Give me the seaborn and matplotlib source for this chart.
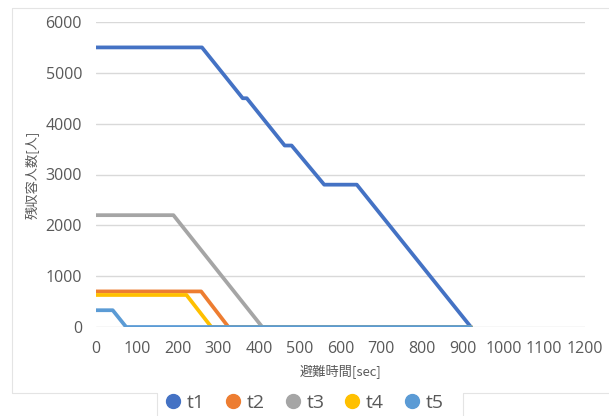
import matplotlib
matplotlib.use("Agg")
import matplotlib.pyplot as plt
from matplotlib.lines import Line2D
import seaborn as sns
import pandas as pd

# Remaining evacuees over time for each group
series_names = ["t1", "t2", "t3", "t4", "t5"]
t1_time = [0, 260, 360, 370, 463, 480, 560, 640, 920]
t1_vals = [5500, 5500, 4500, 4500, 3570, 3570, 2800, 2800, 0]
t2_time = [0, 258, 325, 920]
t2_vals = [700, 700, 0, 0]
t3_time = [0, 190, 408, 920]
t3_vals = [2200, 2200, 0, 0]
t4_time = [0, 222, 283, 920]
t4_vals = [630, 630, 0, 0]
t5_time = [0, 41, 74, 920]
t5_vals = [330, 330, 0, 0]

x_ticks = list(range(0, 1201, 100))
y_ticks = list(range(0, 6001, 1000))
colors = ["#4472C4", "#ED7D31", "#A5A5A5", "#FFC000", "#5B9BD5"]

times = [t1_time, t2_time, t3_time, t4_time, t5_time]
vals = [t1_vals, t2_vals, t3_vals, t4_vals, t5_vals]
frames = []
for name, tt, vv in zip(series_names, times, vals):
    frames.append(pd.DataFrame({"time": tt, "people": vv, "group": name}))
df = pd.concat(frames, ignore_index=True)

sns.set_theme(style="white")
plt.rcParams["font.family"] = ["Open Sans", "Noto Sans CJK JP", "DejaVu Sans"]

fig = plt.figure(figsize=(6.09, 4.16), dpi=100)
ax = fig.add_axes([96 / 609, 1 - 327 / 416, 489 / 609, 305 / 416])

grey_text = "#595959"
grid_col = "#D9D9D9"

for yv in y_ticks:
    ax.axhline(yv, color=grid_col, lw=1.0, zorder=0)

sns.lineplot(data=df, x="time", y="people", hue="group", palette=colors,
             hue_order=series_names, estimator=None, sort=False,
             linewidth=2.7, legend=False, ax=ax)

ax.set_xlim(0, 1200)
ax.set_ylim(0, 6000)
ax.set_xticks(x_ticks)
ax.set_yticks(y_ticks)
ax.tick_params(axis="both", length=0, labelsize=11.5, labelcolor=grey_text)
ax.tick_params(axis="x", pad=10)
ax.tick_params(axis="y", pad=10)
for s in ax.spines.values():
    s.set_visible(False)

ax.set_xlabel("避難時間[sec]", fontsize=9.5, color=grey_text,
              family=["Noto Sans CJK JP", "DejaVu Sans"], labelpad=5)
ax.set_ylabel("残収容人数[人]", fontsize=9.5, color=grey_text,
              family=["Noto Sans CJK JP", "DejaVu Sans"], labelpad=4)

handles = [Line2D([], [], marker="o", linestyle="none", markersize=10,
                  markerfacecolor=c, markeredgecolor=c) for c in colors]
fig.legend(handles, series_names, loc="center", ncol=5,
           bbox_to_anchor=(305 / 609, 1 - 403 / 416), frameon=False,
           fontsize=14, handlelength=0.7, handletextpad=0.35,
           columnspacing=1.1, labelcolor=grey_text)

# Chart-area frame and legend box edges
frame_col = "#E4E4E4"
def fline(x0, y0, x1, y1):
    fig.add_artist(Line2D([x0 / 609, x1 / 609], [1 - y0 / 416, 1 - y1 / 416],
                          color=frame_col, lw=0.8, transform=fig.transFigure))
fline(12, 8, 609, 8)
fline(12, 8, 12, 393)
fline(12, 393, 157, 393)
fline(463, 393, 609, 393)
fline(157, 393, 157, 416)
fline(463, 393, 463, 416)

fig.savefig("out.png", dpi=100)
